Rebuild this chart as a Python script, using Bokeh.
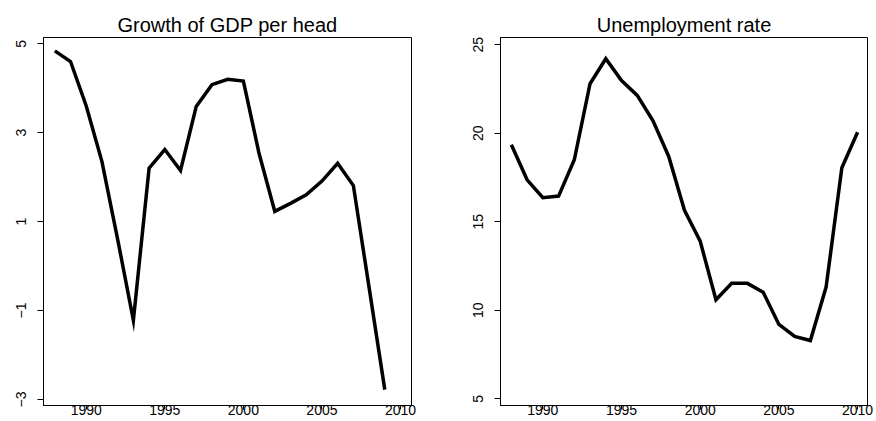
from bokeh.plotting import figure
from bokeh.layouts import row
from bokeh.models import Range1d, FixedTicker
from bokeh.embed import file_html
from bokeh.resources import INLINE

# ---- data ----
years_gdp = [1988, 1989, 1990, 1991, 1992, 1993, 1994, 1995, 1996, 1997, 1998,
             1999, 2000, 2001, 2002, 2003, 2004, 2005, 2006, 2007, 2008, 2009]
gdp_growth = [4.84, 4.60, 3.60, 2.35, 0.60, -1.22, 2.20, 2.62, 2.15, 3.59, 4.08,
              4.20, 4.16, 2.53, 1.23, 1.41, 1.60, 1.91, 2.31, 1.81, -0.48, -2.78]

years_unemp = [1988, 1989, 1990, 1991, 1992, 1993, 1994, 1995, 1996, 1997, 1998,
               1999, 2000, 2001, 2002, 2003, 2004, 2005, 2006, 2007, 2008, 2009, 2010]
unemployment = [19.35, 17.37, 16.36, 16.45, 18.50, 22.80, 24.21, 22.98, 22.14, 20.70, 18.69,
                15.65, 13.90, 10.59, 11.52, 11.52, 11.02, 9.20, 8.52, 8.29, 11.31, 18.05, 20.06]

x_ticks = [1990, 1995, 2000, 2005, 2010]
gdp_ticks = [-3, -1, 1, 3, 5]
unemp_ticks = [5, 10, 15, 20, 25]

FONT = "Liberation Sans"


def style(p, xticks, yticks):
    p.title.text_font = FONT
    p.title.text_font_size = "20px"
    p.title.text_font_style = "normal"
    p.title.text_color = "black"
    p.title.align = "center"
    p.title.standoff = 4
    p.xgrid.visible = False
    p.ygrid.visible = False
    p.outline_line_color = "black"
    p.outline_line_alpha = 1
    p.outline_line_width = 1
    p.background_fill_color = "white"
    p.border_fill_color = "white"
    p.xaxis.ticker = FixedTicker(ticks=xticks)
    p.yaxis.ticker = FixedTicker(ticks=yticks)
    for ax in (p.xaxis[0], p.yaxis[0]):
        ax.axis_line_color = "black"
        ax.major_tick_line_color = "black"
        ax.minor_tick_line_color = None
        ax.major_tick_in = 0
        ax.major_label_text_font = FONT
        ax.major_label_text_font_size = "14px"
        ax.major_label_text_color = "black"
    p.xaxis.major_tick_out = 4
    p.xaxis.major_label_standoff = -5
    p.yaxis.major_tick_out = 6
    p.yaxis.major_label_standoff = 11
    p.yaxis.major_label_orientation = "vertical"


p1 = figure(width=441, height=421, title="Growth of GDP per head",
            x_range=Range1d(1987.28, 2010.70), y_range=Range1d(-3.137, 5.14),
            output_backend="svg", toolbar_location=None,
            min_border_left=43, min_border_right=30, min_border_top=37, min_border_bottom=16)
p1.line(years_gdp, gdp_growth, line_color="black", line_width=3.5, line_join="miter")
style(p1, x_ticks, gdp_ticks)

p2 = figure(width=435, height=421, title="Unemployment rate",
            x_range=Range1d(1987.31, 2010.63), y_range=Range1d(4.62, 25.41),
            output_backend="svg", toolbar_location=None,
            min_border_left=59, min_border_right=9, min_border_top=37, min_border_bottom=16)
p2.line(years_unemp, unemployment, line_color="black", line_width=3.5, line_join="miter")
style(p2, x_ticks, unemp_ticks)

layout = row(p1, p2)
open("out.html", "w").write(file_html(layout, INLINE))
